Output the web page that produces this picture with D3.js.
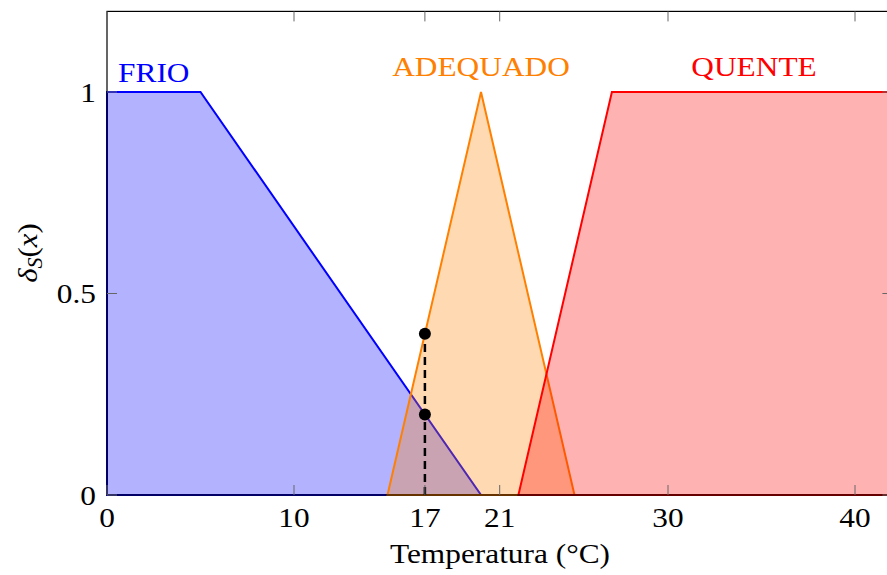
<!DOCTYPE html>
<html>
<head>
<meta charset="utf-8">
<script src="https://cdn.jsdelivr.net/npm/d3@7"></script>
<style>
  html, body { margin: 0; padding: 0; background: #fff; }
  svg { display: block; }
  text { font-family: "Liberation Serif", "DejaVu Serif", serif; }
</style>
</head>
<body>
<svg id="chart" width="887" height="575"></svg>
<script>
// Fuzzy membership functions for temperature
const setNames  = ["FRIO", "ADEQUADO", "QUENTE"];
const setColors = ["#0000ff", "#ff8000", "#ff0000"];
const frioPts     = [[0, 0], [0, 1], [5, 1], [20, 0]];
const adequadoPts = [[15, 0], [20, 1], [25, 0]];
const quentePts   = [[22, 0], [27, 1], [42, 1], [42, 0]];
const setPoints   = [frioPts, adequadoPts, quentePts];
// label anchor (x, y) in data units for each set name
const labelX = [2.5, 20, 34.6];
const labelY = [1.025, 1.04, 1.04];

const xTicks = [0, 10, 17, 21, 30, 40];
const yTicks = [0, 0.5, 1];
const yTickLabels = ["0", "0.5", "1"];

// evaluated input: x = 17
const inputX = 17;
const membershipAtInput = [0.4, 0.2];

const svg = d3.select("#chart");
const x = d3.scaleLinear().domain([0, 42]).range([107, 892.4]);
const y = d3.scaleLinear().domain([0, 1.2]).range([495, 11.4]);

const FONT = 28;
const STRETCH = 1.12;   // widen the serif face a little
function label(parent, px, py, str, anchor, color) {
  return parent.append("text")
    .attr("transform", `translate(${px},${py}) scale(${STRETCH},1)`)
    .attr("text-anchor", anchor)
    .attr("font-size", FONT)
    .attr("fill", color || "#000")
    .text(str);
}

const line = d3.line().x(d => x(d[0])).y(d => y(d[1]));

// membership areas
setPoints.forEach((pts, i) => {
  svg.append("path")
    .attr("d", line(pts) + "Z")
    .attr("fill", setColors[i])
    .attr("fill-opacity", 0.3)
    .attr("stroke", setColors[i])
    .attr("stroke-width", 2)
    .attr("stroke-linejoin", "miter");
});

// set labels
setNames.forEach((name, i) => {
  label(svg, x(labelX[i]), y(labelY[i]), name, "middle", setColors[i]);
});

// dashed drop line and membership points at the input
svg.append("line")
  .attr("x1", x(inputX)).attr("x2", x(inputX))
  .attr("y1", y(0)).attr("y2", y(d3.max(membershipAtInput)))
  .attr("stroke", "#000")
  .attr("stroke-width", 2.5)
  .attr("stroke-dasharray", "8,5");
svg.selectAll("circle.pt")
  .data(membershipAtInput)
  .join("circle")
  .attr("class", "pt")
  .attr("cx", x(inputX))
  .attr("cy", d => y(d))
  .attr("r", 6)
  .attr("fill", "#000");

// frame
const [x0, x1] = x.range();
const [yb, yt] = y.range();
svg.append("rect")
  .attr("x", x0).attr("y", yt)
  .attr("width", x1 - x0).attr("height", yb - yt)
  .attr("fill", "none")
  .attr("stroke", "#000")
  .attr("stroke-width", 1.2);

// ticks (inward, on both sides)
const tickLen = 10;
const tickG = svg.append("g").attr("stroke", "#666").attr("stroke-width", 1);
xTicks.forEach(t => {
  tickG.append("line").attr("x1", x(t)).attr("x2", x(t)).attr("y1", yb).attr("y2", yb - tickLen);
  tickG.append("line").attr("x1", x(t)).attr("x2", x(t)).attr("y1", yt).attr("y2", yt + tickLen);
});
yTicks.forEach(t => {
  tickG.append("line").attr("x1", x0).attr("x2", x0 + tickLen).attr("y1", y(t)).attr("y2", y(t));
  tickG.append("line").attr("x1", x1).attr("x2", x1 - tickLen).attr("y1", y(t)).attr("y2", y(t));
});

// tick labels
const xLab = svg.append("g");
xTicks.forEach(t => label(xLab, x(t), yb + 32, String(t), "middle"));
const yLab = svg.append("g");
yTicks.forEach((t, i) => label(yLab, x0 - 11, y(t) + 9.5, yTickLabels[i], "end"));

// axis titles
label(svg, 500, 563, "Temperatura (°C)", "middle");

const yt2 = svg.append("text")
  .attr("transform", "translate(37,253) rotate(-90) scale(1.1,1)")
  .attr("text-anchor", "middle")
  .attr("font-size", FONT)
  .attr("fill", "#000");
yt2.append("tspan").attr("font-style", "italic").text("δ");
yt2.append("tspan").attr("font-style", "italic").attr("font-size", 20).attr("dy", 5).text("S");
yt2.append("tspan").attr("dy", -5).text("(");
yt2.append("tspan").attr("font-style", "italic").text("x");
yt2.append("tspan").text(")");
</script>
</body>
</html>
